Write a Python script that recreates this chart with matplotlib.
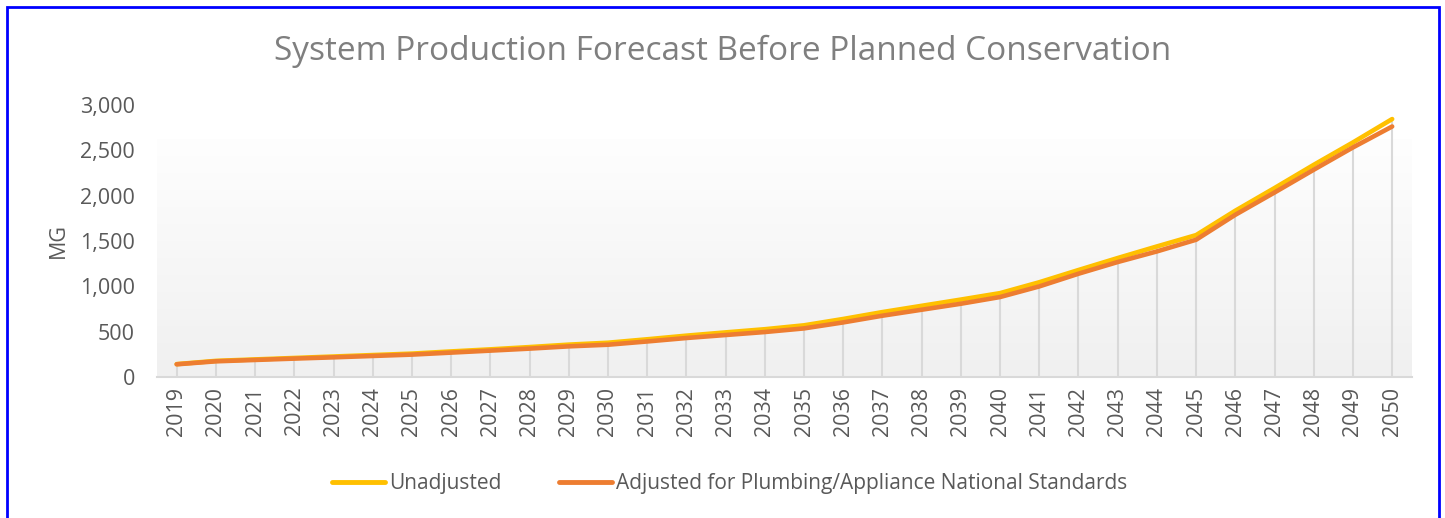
import numpy as np
import matplotlib.pyplot as plt
from matplotlib.colors import LinearSegmentedColormap
from matplotlib.patches import Rectangle

# Values (MG per year)
years = list(range(2019, 2051))
unadjusted = [142, 178, 194, 210, 226, 242, 258, 282, 305, 330, 357, 378, 416, 456,
              492, 527, 570, 640, 716, 785, 854, 925, 1045, 1180, 1312, 1440, 1565,
              1834, 2084, 2340, 2587, 2845]
adjusted = [140, 173, 188, 203, 217, 232, 247, 269, 291, 313, 338, 356, 392, 430,
            463, 496, 536, 602, 676, 742, 808, 882, 999, 1139, 1268, 1385, 1514,
            1789, 2035, 2286, 2532, 2763]

plt.rcParams['font.family'] = ['Open Sans', 'DejaVu Sans']
txt = "#595959"

fig = plt.figure(figsize=(14.45, 5.18), dpi=100)
ax = fig.add_axes([0.1087, 0.2722, 0.8683, 0.5251])

x = np.arange(len(years))

# plot area gradient
grad = np.linspace(0, 1, 256).reshape(-1, 1)
cmap = LinearSegmentedColormap.from_list("bg", ["#fefefe", "#f0f0f0"])
ax.imshow(grad, cmap=cmap, aspect="auto", extent=[-0.5, len(years) - 0.5, 0, 2620],
          origin="upper", zorder=0)

# drop lines
ax.vlines(x, 0, unadjusted, color="#d9d9d9", lw=1.5, zorder=1)

ax.plot(x, unadjusted, color="#FFC000", lw=3.3, solid_capstyle="round",
        label="Unadjusted", zorder=3)
ax.plot(x, adjusted, color="#ED7D31", lw=3.3, solid_capstyle="round",
        label="Adjusted for Plumbing/Appliance National Standards", zorder=4)

ax.set_xlim(-0.5, len(years) - 0.5)
ax.set_ylim(0, 3000)
ax.set_yticks(range(0, 3001, 500))
ax.set_yticklabels([f"{v:,}" for v in range(0, 3001, 500)])
ax.set_xticks(x)
ax.set_xticklabels([str(y) for y in years], rotation=90)
ax.tick_params(axis="both", length=0, labelsize=15.5, colors=txt)
ax.tick_params(axis="y", pad=16)
ax.tick_params(axis="x", pad=7)

for s in ["top", "right", "left"]:
    ax.spines[s].set_visible(False)
ax.spines["bottom"].set_color("#d9d9d9")
ax.spines["bottom"].set_linewidth(1.5)
ax.set_facecolor("white")

ax.set_ylabel("MG", fontsize=15.5, color=txt, labelpad=8)

fig.text(0.5, 0.9, "System Production Forecast Before Planned Conservation",
         ha="center", va="center", fontsize=24, color="#7f7f7f")

leg = fig.legend(loc="center", bbox_to_anchor=(0.505, 0.067), ncol=2, frameon=False,
                 fontsize=15, handlelength=2.5, handletextpad=0.2, columnspacing=2.8)
for t in leg.get_texts():
    t.set_color(txt)
for h in leg.get_lines():
    h.set_linewidth(3.5)

# blue outer border
fig.patches.append(Rectangle((0.005, -0.01), 0.991, 0.997, transform=fig.transFigure,
                             fill=False, edgecolor="blue", lw=2))

fig.savefig("out.png", dpi=100)
